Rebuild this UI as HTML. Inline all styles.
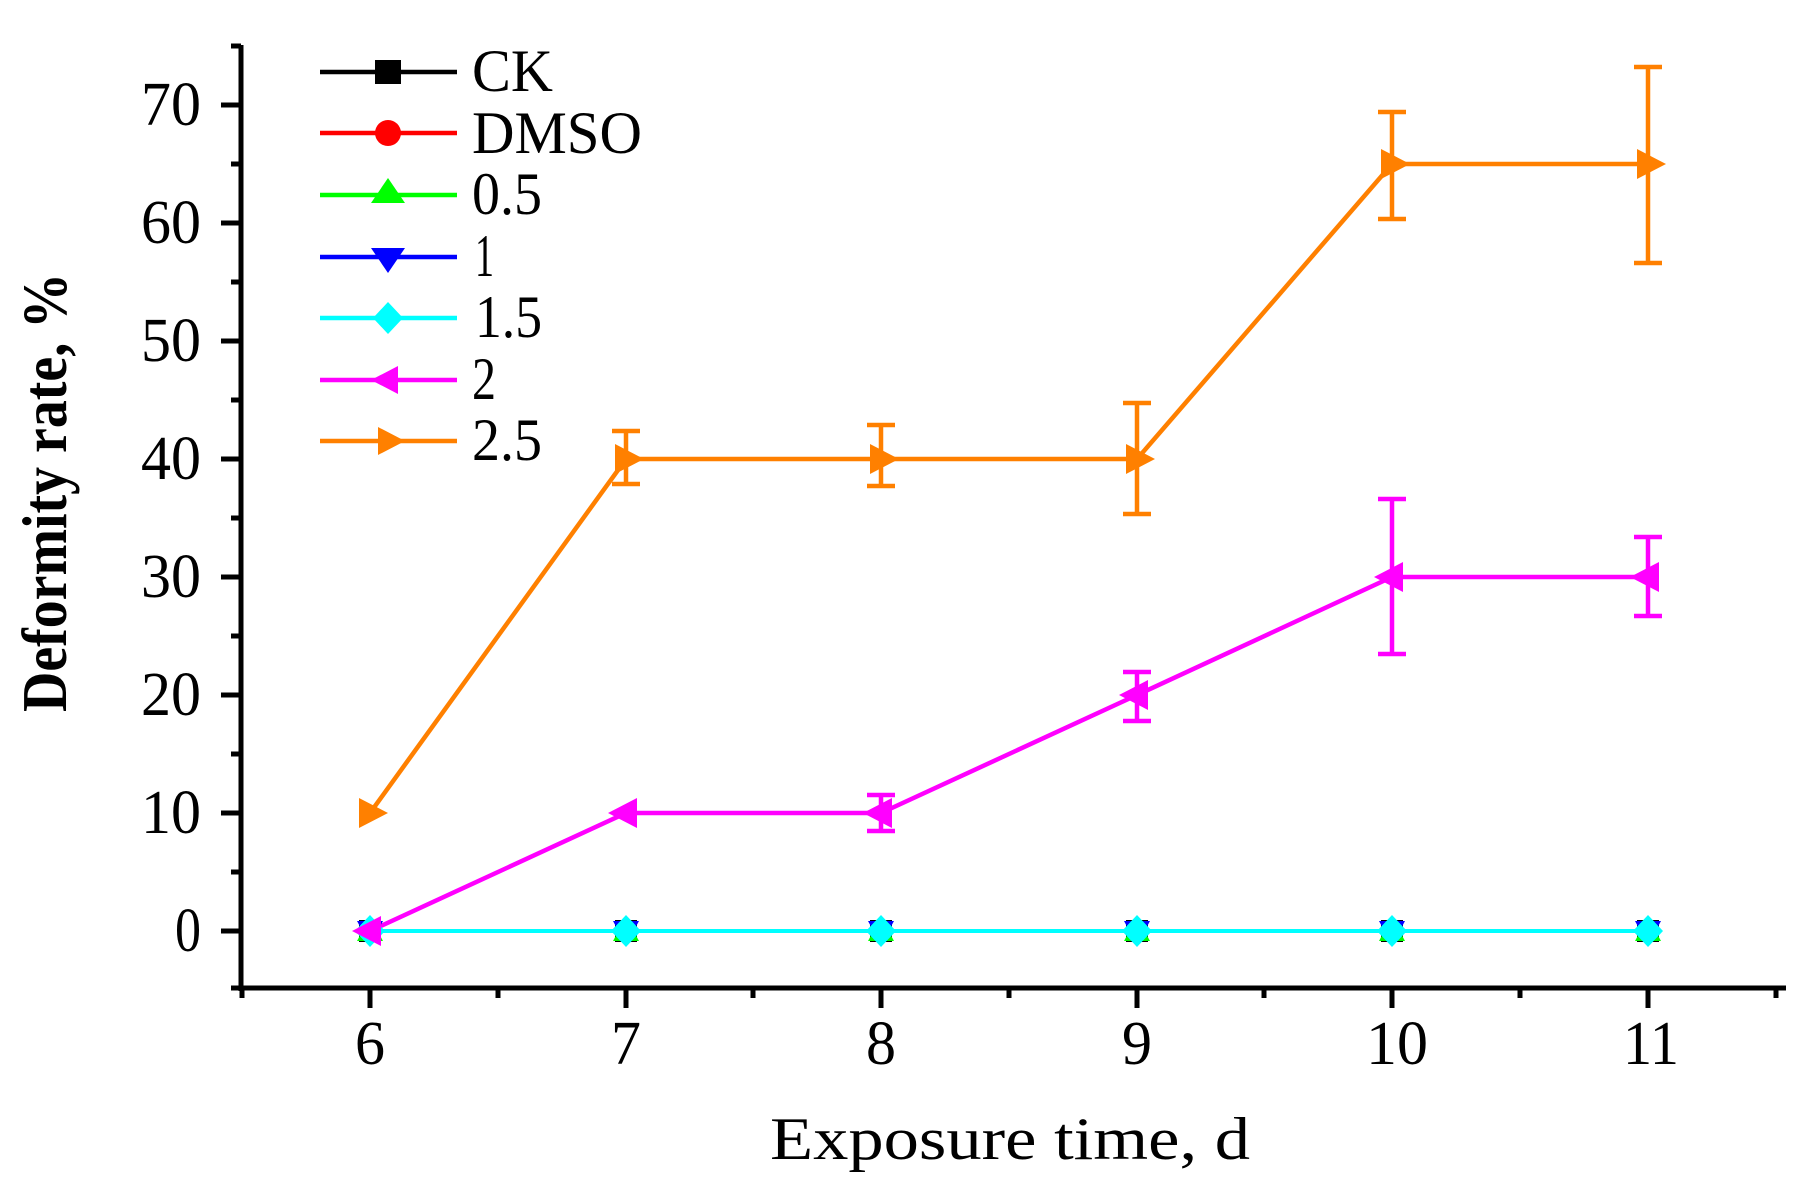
<!DOCTYPE html>
<html><head><meta charset="utf-8"><style>html,body{margin:0;padding:0;background:#fff}svg{display:block}</style></head><body>
<svg width="1801" height="1195" viewBox="0 0 1801 1195" xmlns="http://www.w3.org/2000/svg" font-family="Liberation Serif, serif">
<rect width="1801" height="1195" fill="#fff"/>
<g stroke="#000" stroke-width="5" fill="none">
<line x1="241" y1="45" x2="241" y2="991"/>
<line x1="239" y1="988" x2="1786" y2="988"/>
<line x1="221" y1="931" x2="241" y2="931"/><line x1="221" y1="813" x2="241" y2="813"/><line x1="221" y1="695" x2="241" y2="695"/><line x1="221" y1="577" x2="241" y2="577"/><line x1="221" y1="459" x2="241" y2="459"/><line x1="221" y1="341" x2="241" y2="341"/><line x1="221" y1="223" x2="241" y2="223"/><line x1="221" y1="105" x2="241" y2="105"/>
<line x1="231" y1="988" x2="241" y2="988"/><line x1="231" y1="872" x2="241" y2="872"/><line x1="231" y1="754" x2="241" y2="754"/><line x1="231" y1="636" x2="241" y2="636"/><line x1="231" y1="518" x2="241" y2="518"/><line x1="231" y1="400" x2="241" y2="400"/><line x1="231" y1="282" x2="241" y2="282"/><line x1="231" y1="164" x2="241" y2="164"/><line x1="231" y1="46" x2="241" y2="46"/>
<line x1="370" y1="988" x2="370" y2="1008"/><line x1="626" y1="988" x2="626" y2="1008"/><line x1="881" y1="988" x2="881" y2="1008"/><line x1="1137" y1="988" x2="1137" y2="1008"/><line x1="1392" y1="988" x2="1392" y2="1008"/><line x1="1648" y1="988" x2="1648" y2="1008"/>
<line x1="242" y1="988" x2="242" y2="998"/><line x1="498" y1="988" x2="498" y2="998"/><line x1="753" y1="988" x2="753" y2="998"/><line x1="1009" y1="988" x2="1009" y2="998"/><line x1="1264" y1="988" x2="1264" y2="998"/><line x1="1520" y1="988" x2="1520" y2="998"/><line x1="1776" y1="988" x2="1776" y2="998"/>
</g>
<g font-size="62" fill="#000" text-anchor="end">
<text x="201" y="951" textLength="26" lengthAdjust="spacingAndGlyphs">0</text>
<text x="201" y="833" textLength="60" lengthAdjust="spacingAndGlyphs">10</text>
<text x="201" y="715" textLength="60" lengthAdjust="spacingAndGlyphs">20</text>
<text x="201" y="597" textLength="60" lengthAdjust="spacingAndGlyphs">30</text>
<text x="201" y="479" textLength="60" lengthAdjust="spacingAndGlyphs">40</text>
<text x="201" y="361" textLength="60" lengthAdjust="spacingAndGlyphs">50</text>
<text x="201" y="243" textLength="60" lengthAdjust="spacingAndGlyphs">60</text>
<text x="201" y="125" textLength="60" lengthAdjust="spacingAndGlyphs">70</text>
</g>
<g font-size="62" fill="#000" text-anchor="middle">
<text x="370" y="1064" textLength="30" lengthAdjust="spacingAndGlyphs">6</text>
<text x="626" y="1064" textLength="30" lengthAdjust="spacingAndGlyphs">7</text>
<text x="881" y="1064" textLength="30" lengthAdjust="spacingAndGlyphs">8</text>
<text x="1137" y="1064" textLength="30" lengthAdjust="spacingAndGlyphs">9</text>
<text x="1397" y="1064" textLength="62" lengthAdjust="spacingAndGlyphs">10</text>
<text x="1651" y="1064" textLength="56" lengthAdjust="spacingAndGlyphs">11</text>
</g>
<text x="770" y="1159" font-size="60" textLength="480" lengthAdjust="spacingAndGlyphs" fill="#000">Exposure time, d</text>
<text transform="translate(66,712) rotate(-90)" font-size="64" font-weight="bold" textLength="439" lengthAdjust="spacingAndGlyphs" fill="#000">Deformity rate, %</text>
<line x1="370" y1="931" x2="1648" y2="931" stroke="#00ffff" stroke-width="4"/>
<g stroke="#ff8000" stroke-width="4.5" fill="none">
<path d="M626,484V431M612,484H640M612,431H640"/>
<path d="M881,486V425M867,486H895M867,425H895"/>
<path d="M1137,514V403M1123,514H1151M1123,403H1151"/>
<path d="M1392,219V112M1378,219H1406M1378,112H1406"/>
<path d="M1648,263V67M1634,263H1662M1634,67H1662"/>
</g>
<g stroke="#ff00ff" stroke-width="4.5" fill="none">
<path d="M881,831V795M867,831H895M867,795H895"/>
<path d="M1137,721V672M1123,721H1151M1123,672H1151"/>
<path d="M1392,654V499M1378,654H1406M1378,499H1406"/>
<path d="M1648,616V537M1634,616H1662M1634,537H1662"/>
</g>
<polyline points="370,813 626,459 881,459 1137,459 1392,164 1648,164" fill="none" stroke="#ff8000" stroke-width="4.5"/>
<polyline points="370,931 626,813 881,813 1137,695 1392,577 1648,577" fill="none" stroke="#ff00ff" stroke-width="4.5"/>
<g>
<g transform="translate(370,931)"><rect x="-11" y="-11" width="22" height="22" fill="#000"/><polygon points="-13,10 13,10 0,-14" fill="#00ff00"/><polygon points="-13,-10 13,-10 0,14" fill="#0000ff"/><polygon points="0,-16 15,0 0,16 -15,0" fill="#00ffff"/></g>
<g transform="translate(626,931)"><rect x="-11" y="-11" width="22" height="22" fill="#000"/><polygon points="-13,10 13,10 0,-14" fill="#00ff00"/><polygon points="-13,-10 13,-10 0,14" fill="#0000ff"/><polygon points="0,-16 15,0 0,16 -15,0" fill="#00ffff"/></g>
<g transform="translate(881,931)"><rect x="-11" y="-11" width="22" height="22" fill="#000"/><polygon points="-13,10 13,10 0,-14" fill="#00ff00"/><polygon points="-13,-10 13,-10 0,14" fill="#0000ff"/><polygon points="0,-16 15,0 0,16 -15,0" fill="#00ffff"/></g>
<g transform="translate(1137,931)"><rect x="-11" y="-11" width="22" height="22" fill="#000"/><polygon points="-13,10 13,10 0,-14" fill="#00ff00"/><polygon points="-13,-10 13,-10 0,14" fill="#0000ff"/><polygon points="0,-16 15,0 0,16 -15,0" fill="#00ffff"/></g>
<g transform="translate(1392,931)"><rect x="-11" y="-11" width="22" height="22" fill="#000"/><polygon points="-13,10 13,10 0,-14" fill="#00ff00"/><polygon points="-13,-10 13,-10 0,14" fill="#0000ff"/><polygon points="0,-16 15,0 0,16 -15,0" fill="#00ffff"/></g>
<g transform="translate(1648,931)"><rect x="-11" y="-11" width="22" height="22" fill="#000"/><polygon points="-13,10 13,10 0,-14" fill="#00ff00"/><polygon points="-13,-10 13,-10 0,14" fill="#0000ff"/><polygon points="0,-16 15,0 0,16 -15,0" fill="#00ffff"/></g>
</g>
<g fill="#ff00ff">
<polygon points="352,931 381,916 381,946"/>
<polygon points="608,813 637,798 637,828"/>
<polygon points="863,813 892,798 892,828"/>
<polygon points="1119,695 1148,680 1148,710"/>
<polygon points="1374,577 1403,562 1403,592"/>
<polygon points="1630,577 1659,562 1659,592"/>
</g>
<g fill="#ff8000">
<polygon points="359,798 359,828 388,813"/>
<polygon points="615,444 615,474 644,459"/>
<polygon points="870,444 870,474 899,459"/>
<polygon points="1126,444 1126,474 1155,459"/>
<polygon points="1381,149 1381,179 1410,164"/>
<polygon points="1637,149 1637,179 1666,164"/>
</g>
<g stroke-width="4.5">
<line x1="320" y1="72" x2="457" y2="72" stroke="#000"/>
<line x1="320" y1="133" x2="457" y2="133" stroke="#ff0000"/>
<line x1="320" y1="195" x2="457" y2="195" stroke="#00ff00"/>
<line x1="320" y1="257" x2="457" y2="257" stroke="#0000ff"/>
<line x1="320" y1="318" x2="457" y2="318" stroke="#00ffff"/>
<line x1="320" y1="380" x2="457" y2="380" stroke="#ff00ff"/>
<line x1="320" y1="441" x2="457" y2="441" stroke="#ff8000"/>
</g>
<rect x="375" y="60" width="26" height="24" fill="#000"/>
<circle cx="388" cy="133" r="13" fill="#ff0000"/>
<polygon points="371,203 405,203 388,178" fill="#00ff00"/>
<polygon points="371,248 405,248 388,273" fill="#0000ff"/>
<polygon points="388,302 403,318 388,334 373,318" fill="#00ffff"/>
<polygon points="371,380 398,366 398,394" fill="#ff00ff"/>
<polygon points="378,427 378,455 405,441" fill="#ff8000"/>
<g font-size="60" fill="#000">
<text x="472" y="91" textLength="81" lengthAdjust="spacingAndGlyphs">CK</text>
<text x="472" y="153" textLength="170" lengthAdjust="spacingAndGlyphs">DMSO</text>
<text x="472" y="214" textLength="70" lengthAdjust="spacingAndGlyphs">0.5</text>
<text x="475" y="276" textLength="19" lengthAdjust="spacingAndGlyphs">1</text>
<text x="475" y="337" textLength="67" lengthAdjust="spacingAndGlyphs">1.5</text>
<text x="472" y="399" textLength="24" lengthAdjust="spacingAndGlyphs">2</text>
<text x="472" y="460" textLength="70" lengthAdjust="spacingAndGlyphs">2.5</text>
</g>
</svg>
</body></html>
